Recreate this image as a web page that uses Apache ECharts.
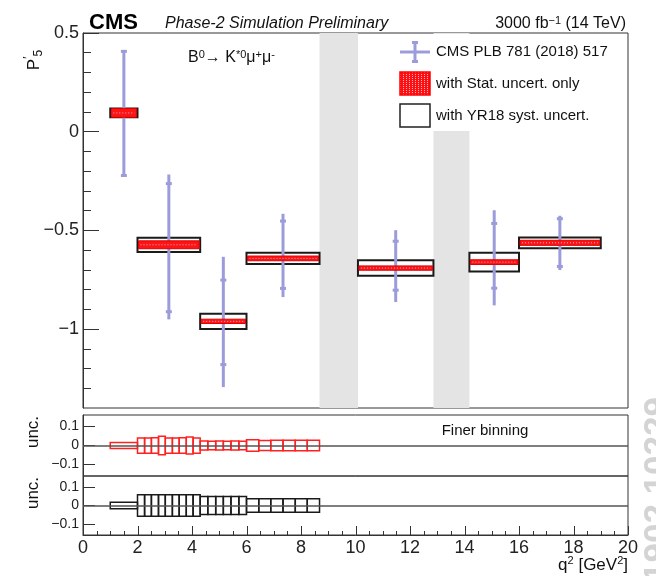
<!DOCTYPE html>
<html>
<head>
<meta charset="utf-8">
<script src="https://cdn.jsdelivr.net/npm/echarts@6.0.0/dist/echarts.min.js"></script>
<style>
html,body{margin:0;padding:0;background:#fff;}
#main{width:656px;height:576px;}
</style>
</head>
<body>
<div id="main"></div>
<script>
// P5' bins (CMS PLB 781 (2018) 517)
var binLo = [1, 2, 4.3, 6, 10.09, 14.18, 16];
var binHi = [2, 4.3, 6, 8.68, 12.86, 16, 19];
var p5 = [0.095, -0.573, -0.961, -0.642, -0.691, -0.661, -0.563];
var statUp = [0.407, -0.263, -0.752, -0.453, -0.555, -0.465, -0.441];
var statDn = [-0.222, -0.912, -1.180, -0.794, -0.803, -0.793, -0.683];
var totUp = [0.407, -0.217, -0.634, -0.416, -0.499, -0.398, -0.426];
var totDn = [-0.222, -0.951, -1.294, -0.838, -0.863, -0.880, -0.701];
// projections (half heights)
var projStat = [0.022, 0.020, 0.011, 0.012, 0.011, 0.012, 0.013];
var projSyst = [0.022, 0.036, 0.039, 0.028, 0.039, 0.048, 0.027];
// vetoed regions
var vetoLo = [8.68, 12.86];
var vetoHi = [10.09, 14.18];
// finer binning
var fineEdges = [1, 2, 2.26, 2.51, 2.77, 3.02, 3.28, 3.53, 3.79, 4.04, 4.3, 4.58, 4.87, 5.15, 5.43, 5.72, 6, 6.45, 6.89, 7.34, 7.79, 8.23, 8.68];
var fineStat = [0.016, 0.040, 0.040, 0.041, 0.048, 0.040, 0.040, 0.041, 0.045, 0.040, 0.024, 0.022, 0.023, 0.022, 0.023, 0.022, 0.030, 0.026, 0.027, 0.028, 0.027, 0.028];
var fineSyst = [0.018, 0.058, 0.058, 0.058, 0.058, 0.058, 0.058, 0.058, 0.058, 0.058, 0.049, 0.049, 0.049, 0.049, 0.049, 0.049, 0.037, 0.037, 0.037, 0.037, 0.037, 0.037];
// ticks
var yMajor = [-1, -0.5, 0, 0.5];
var yMinor = [-1.3, -1.2, -1.1, -0.9, -0.8, -0.7, -0.6, -0.4, -0.3, -0.2, -0.1, 0.1, 0.2, 0.3, 0.4];
var uncTicks = [-0.1, 0, 0.1];
var xMajor = [0, 2, 4, 6, 8, 10, 12, 14, 16, 18, 20];
var xMinor = [0.5, 1, 1.5, 2.5, 3, 3.5, 4.5, 5, 5.5, 6.5, 7, 7.5, 8.5, 9, 9.5, 10.5, 11, 11.5, 12.5, 13, 13.5, 14.5, 15, 15.5, 16.5, 17, 17.5, 18.5, 19, 19.5];

var FONT = '"Liberation Sans", Arial, sans-serif';
var BLUE = '#9c9cdb';
var UNC_MIN = -0.16, UNC_MAX = 0.16;

// red hatched fill for the legend
var pat = document.createElement('canvas');
pat.width = 3; pat.height = 2;
var pc = pat.getContext('2d');
pc.fillStyle = '#ff1010'; pc.fillRect(0, 0, 3, 2);
pc.fillStyle = '#f6b0c8'; pc.fillRect(1, 0, 1, 1);
var redFill = {image: pat, repeat: 'repeat'};

function fmt(v){
	if (Math.abs(v) < 1e-9) return '0';
	return v < 0 ? '\u2212' + Math.abs(v) : String(v);
}

var binData = [], fineData = [], vetoData = [];
for (var i = 0; i < binLo.length; i++) {
	binData.push([binLo[i], binHi[i], p5[i], statUp[i], statDn[i], totUp[i], totDn[i], projStat[i], projSyst[i]]);
}
for (var i = 0; i < fineStat.length; i++) {
	fineData.push([fineEdges[i], fineEdges[i + 1], fineStat[i], fineSyst[i]]);
}
for (var i = 0; i < vetoLo.length; i++) vetoData.push([vetoLo[i], vetoHi[i], 0]);

var myChart = echarts.init(document.getElementById('main'), null, {renderer: 'canvas'});

var gridL = 83, gridW = 545;
var lineCol = '#333';

function yAxisSmall(idx){
	return {
		gridIndex: idx, type: 'value', min: UNC_MIN, max: UNC_MAX, position: 'left',
		axisLine: {show: true, onZero: false, lineStyle: {color: lineCol}},
		axisTick: {show: true, inside: true, length: 12, customValues: uncTicks, lineStyle: {color: lineCol}},
		axisLabel: {show: true, customValues: uncTicks, formatter: fmt, fontSize: 14, color: '#222', fontFamily: FONT, margin: 4},
		splitLine: {show: false}
	};
}

var option = {
	animation: false,
	grid: [
		{left: gridL, top: 33, width: gridW, height: 375, show: true, borderColor: lineCol, borderWidth: 1, backgroundColor: '#fff'},
		{left: gridL, top: 415, width: gridW, height: 61, show: true, borderColor: lineCol, borderWidth: 1},
		{left: gridL, top: 476, width: gridW, height: 59, show: true, borderColor: lineCol, borderWidth: 1}
	],
	xAxis: [
		{gridIndex: 0, type: 'value', min: 0, max: 20, show: false},
		{gridIndex: 1, type: 'value', min: 0, max: 20, show: false},
		{gridIndex: 2, type: 'value', min: 0, max: 20,
			axisLine: {show: true, onZero: false, lineStyle: {color: lineCol}},
			axisTick: {show: false},
			axisLabel: {customValues: xMajor, fontSize: 18, color: '#222', fontFamily: FONT, margin: 4},
			splitLine: {show: false}}
	],
	yAxis: [
		{gridIndex: 0, type: 'value', min: -1.4, max: 0.5, position: 'left',
			axisLine: {show: true, onZero: false, lineStyle: {color: lineCol}},
			axisTick: {show: true, inside: true, length: 16, customValues: yMajor, lineStyle: {color: lineCol}},
			axisLabel: {show: true, customValues: yMajor, formatter: fmt, fontSize: 18, color: '#222', fontFamily: FONT, margin: 4},
			splitLine: {show: false}},
		{gridIndex: 0, type: 'value', min: -1.4, max: 0.5, position: 'left', offset: 0,
			axisLine: {show: false, onZero: false},
			axisTick: {show: true, inside: true, length: 8, customValues: yMinor, lineStyle: {color: lineCol}},
			axisLabel: {show: false},
			splitLine: {show: false}},
		yAxisSmall(1),
		yAxisSmall(2)
	],
	series: [
		{ // veto bands
			type: 'custom', xAxisIndex: 0, yAxisIndex: 0, z: 1,
			data: vetoData, encode: {x: [0, 1], y: 2},
			renderItem: function(params, api){
				var a = api.coord([api.value(0), 0]);
				var b = api.coord([api.value(1), 0]);
				var cs = params.coordSys;
				return {type: 'rect', shape: {x: a[0], y: cs.y, width: b[0] - a[0], height: cs.height}, style: {fill: '#e4e4e4'}};
			}
		},
		{ // syst boxes
			type: 'custom', xAxisIndex: 0, yAxisIndex: 0, z: 3,
			data: binData, encode: {x: [0, 1], y: 2},
			renderItem: function(params, api){
				var c = api.value(2), h = api.value(8);
				var a = api.coord([api.value(0), c + h]);
				var b = api.coord([api.value(1), c - h]);
				return {type: 'rect', shape: {x: a[0], y: a[1], width: b[0] - a[0], height: b[1] - a[1]},
					style: {fill: 'none', stroke: '#1a1a1a', lineWidth: 2}};
			}
		},
		{ // measured P5' error bars
			type: 'custom', xAxisIndex: 0, yAxisIndex: 0, z: 4,
			data: binData, encode: {x: [0, 1], y: 2},
			renderItem: function(params, api){
				var xm = (api.value(0) + api.value(1)) / 2;
				var t = api.coord([xm, api.value(5)]);
				var d = api.coord([xm, api.value(6)]);
				var su = api.coord([xm, api.value(3)]);
				var sd = api.coord([xm, api.value(4)]);
				var st = {stroke: BLUE, lineWidth: 3};
				return {type: 'group', children: [
					{type: 'line', shape: {x1: t[0], y1: t[1], x2: d[0], y2: d[1]}, style: st},
					{type: 'rect', shape: {x: su[0] - 3, y: su[1] - 1.5, width: 6, height: 3}, style: {fill: BLUE}},
					{type: 'rect', shape: {x: sd[0] - 3, y: sd[1] - 1.5, width: 6, height: 3}, style: {fill: BLUE}}
				]};
			}
		},
		{ // stat boxes
			type: 'custom', xAxisIndex: 0, yAxisIndex: 0, z: 5,
			data: binData, encode: {x: [0, 1], y: 2},
			renderItem: function(params, api){
				var c = api.value(2), h = api.value(7);
				var a = api.coord([api.value(0), c + h]);
				var b = api.coord([api.value(1), c - h]);
				var m = api.coord([api.value(0), c]);
				return {type: 'group', children: [
					{type: 'rect', shape: {x: a[0] + 1, y: a[1], width: b[0] - a[0] - 2, height: b[1] - a[1]},
						style: {fill: '#ff1414', stroke: '#e00000', lineWidth: 1}},
					{type: 'line', shape: {x1: a[0] + 3, y1: m[1], x2: b[0] - 3, y2: m[1]},
						style: {stroke: '#c8b4f0', lineWidth: 1, lineDash: [1, 2]}}
				]};
			}
		},
		{ // finer binning, stat
			type: 'custom', xAxisIndex: 1, yAxisIndex: 2, z: 3,
			data: fineData, encode: {x: [0, 1], y: 2},
			renderItem: function(params, api){
				var h = api.value(2);
				var a = api.coord([api.value(0), h]);
				var b = api.coord([api.value(1), -h]);
				return {type: 'rect', shape: {x: a[0], y: a[1], width: b[0] - a[0], height: b[1] - a[1]},
					style: {fill: 'none', stroke: '#ff2020', lineWidth: 1.5}};
			},
			markLine: {silent: true, symbol: 'none', label: {show: false}, lineStyle: {color: '#555', width: 1.5, type: 'solid'}, data: [{yAxis: 0}]}
		},
		{ // finer binning, syst (+ q2 axis ticks on the first item)
			type: 'custom', xAxisIndex: 2, yAxisIndex: 3, z: 3,
			data: fineData, encode: {x: [0, 1], y: 3},
			renderItem: function(params, api){
				var h = api.value(3);
				var a = api.coord([api.value(0), h]);
				var b = api.coord([api.value(1), -h]);
				var kids = [{type: 'rect', shape: {x: a[0], y: a[1], width: b[0] - a[0], height: b[1] - a[1]},
					style: {fill: 'none', stroke: '#1a1a1a', lineWidth: 1.5}}];
				if (params.dataIndex === 0) {
					var addTick = function(v, len){
						var p = api.coord([v, UNC_MIN]);
						kids.push({type: 'rect', shape: {x: Math.round(p[0]), y: p[1] - len, width: 1, height: len}, style: {fill: '#333'}});
					};
					xMajor.forEach(function(v){ addTick(v, 9); });
					xMinor.forEach(function(v){ addTick(v, 4); });
				}
				return {type: 'group', children: kids};
			},
			markLine: {silent: true, symbol: 'none', label: {show: false}, lineStyle: {color: '#555', width: 1.5, type: 'solid'}, data: [{yAxis: 0}]}
		}
	],
	graphic: [
		// legend
		{type: 'rect', z: 10, shape: {x: 396, y: 34, width: 231, height: 97}, style: {fill: '#fff'}},
		{type: 'line', z: 11, shape: {x1: 400, y1: 52, x2: 430, y2: 52}, style: {stroke: BLUE, lineWidth: 3}},
		{type: 'line', z: 11, shape: {x1: 415, y1: 42, x2: 415, y2: 62}, style: {stroke: BLUE, lineWidth: 3}},
		{type: 'rect', z: 11, shape: {x: 412, y: 41, width: 6, height: 3}, style: {fill: BLUE}},
		{type: 'rect', z: 11, shape: {x: 412, y: 60, width: 6, height: 3}, style: {fill: BLUE}},
		{type: 'rect', z: 11, shape: {x: 400, y: 72, width: 30, height: 23}, style: {fill: redFill, stroke: '#ff0000', lineWidth: 1.5}},
		{type: 'rect', z: 11, shape: {x: 400, y: 104, width: 30, height: 23}, style: {fill: '#fff', stroke: '#222', lineWidth: 1.5}},
		{type: 'text', z: 11, x: 436, y: 52, style: {text: 'CMS PLB 781 (2018) 517', font: '15px ' + FONT, fill: '#111', verticalAlign: 'middle'}},
		{type: 'text', z: 11, x: 436, y: 84, style: {text: 'with Stat. uncert. only', font: '15px ' + FONT, fill: '#111', verticalAlign: 'middle'}},
		{type: 'text', z: 11, x: 436, y: 116, style: {text: 'with YR18 syst. uncert.', font: '15px ' + FONT, fill: '#111', verticalAlign: 'middle'}},
		// header
		{type: 'text', x: 89, y: 23, style: {text: 'CMS', font: 'bold 22px ' + FONT, fill: '#000', verticalAlign: 'middle'}},
		{type: 'text', x: 165, y: 24, style: {text: 'Phase-2 Simulation Preliminary', font: 'italic 16px ' + FONT, fill: '#111', verticalAlign: 'middle'}},
		{type: 'text', x: 626, y: 24, style: {text: '{n|3000 fb}{s|\u22121}{n| (14 TeV)}', align: 'right', verticalAlign: 'middle',
			rich: {n: {font: '16px ' + FONT, fill: '#111', lineHeight: 18}, s: {font: '11px ' + FONT, fill: '#111', verticalAlign: 'top', lineHeight: 18}}}},
		{type: 'text', x: 188, y: 58, style: {text: '{n|B}{s|0}{n|\u2192 K}{s|*0}{n|\u03bc}{s|+}{n|\u03bc}{s|-}', verticalAlign: 'middle',
			rich: {n: {font: '16px ' + FONT, fill: '#111', lineHeight: 18}, s: {font: '11px ' + FONT, fill: '#111', verticalAlign: 'top', lineHeight: 18}}}},
		{type: 'text', x: 485, y: 431, style: {text: 'Finer binning', font: '15px ' + FONT, fill: '#111', align: 'center', verticalAlign: 'middle'}},
		{type: 'text', x: 628, y: 565, style: {text: '{n|q}{s|2}{n| [GeV}{s|2}{n|]}', align: 'right', verticalAlign: 'middle',
			rich: {n: {font: '17px ' + FONT, fill: '#111', lineHeight: 19}, s: {font: '11px ' + FONT, fill: '#111', verticalAlign: 'top', lineHeight: 19}}}},
		// axis titles
		{type: 'text', x: 34, y: 60, rotation: Math.PI / 2, style: {text: '{n|P}{s|\u2032}{b|5}', align: 'center', verticalAlign: 'middle',
			rich: {n: {font: '17px ' + FONT, fill: '#111', lineHeight: 22}, s: {font: '12px ' + FONT, fill: '#111', verticalAlign: 'top', lineHeight: 22}, b: {font: '12px ' + FONT, fill: '#111', verticalAlign: 'bottom', lineHeight: 22}}}},
		{type: 'text', x: 33, y: 432, rotation: Math.PI / 2, style: {text: 'unc.', font: '17px ' + FONT, fill: '#111', align: 'center', verticalAlign: 'middle'}},
		{type: 'text', x: 33, y: 493, rotation: Math.PI / 2, style: {text: 'unc.', font: '17px ' + FONT, fill: '#111', align: 'center', verticalAlign: 'middle'}},
		// arXiv stamp
		{type: 'text', x: 641, y: 582, rotation: Math.PI / 2, style: {text: '1902.10229', font: 'bold 35px ' + FONT, fill: '#d4d4d4', align: 'left', verticalAlign: 'top'}}
	]
};

myChart.setOption(option);
</script>
</body>
</html>
